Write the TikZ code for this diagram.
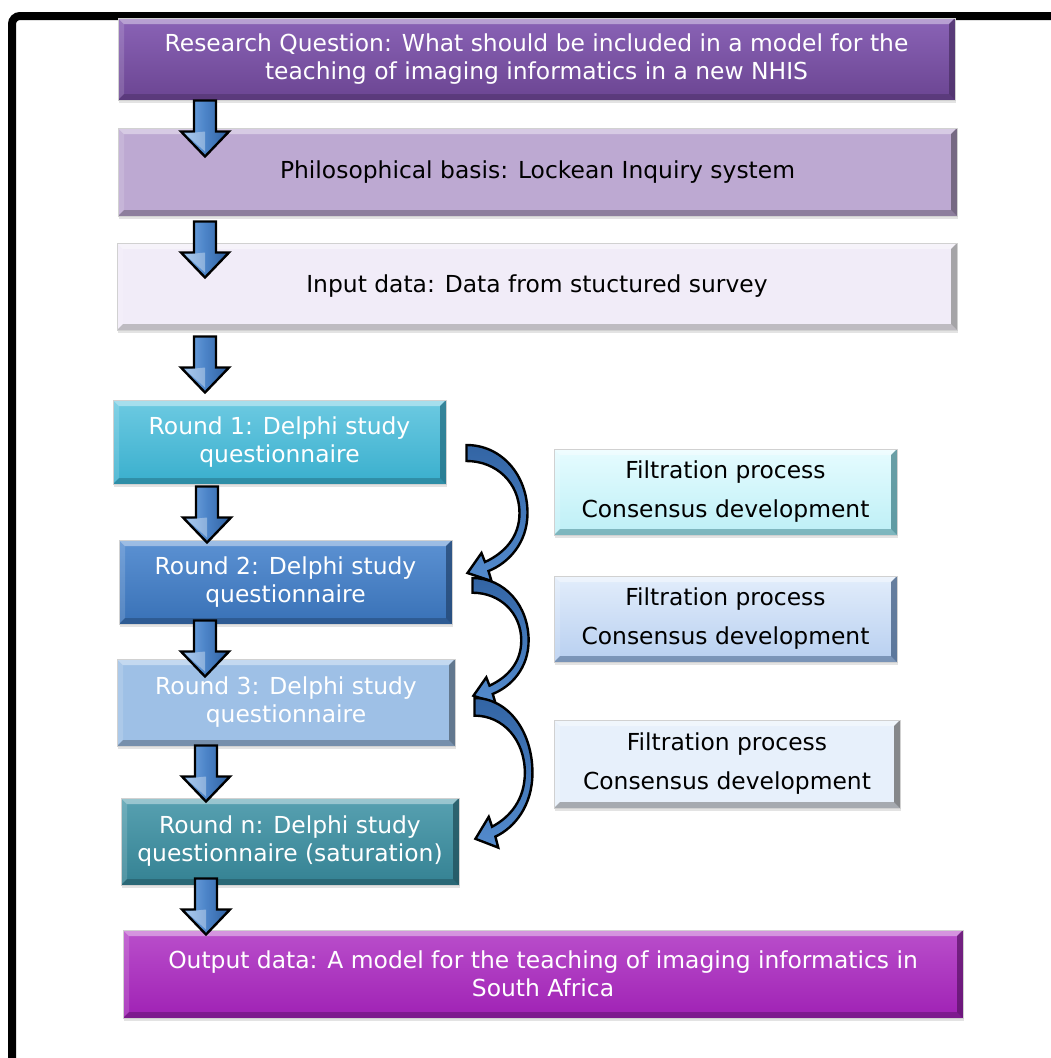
\documentclass[tikz,border=0pt]{standalone}
\usepackage{fontspec}
\setmainfont{DejaVu Sans}
\usetikzlibrary{calc,shadows}

\definecolor{rqtop}{HTML}{8A63B6}
\definecolor{rqbot}{HTML}{6B4592}
\definecolor{philface}{HTML}{BDA9D2}
\definecolor{inface}{HTML}{F1ECF8}
\definecolor{roneface}{HTML}{3CB8D8}
\definecolor{rtwoface}{HTML}{3F7ECB}
\definecolor{rthreeface}{HTML}{9EC0E6}
\definecolor{rnface}{HTML}{3A90A3}
\definecolor{outface}{HTML}{A823BE}
\definecolor{fonetop}{HTML}{E6FCFF}
\definecolor{fonebot}{HTML}{BDEFF6}
\definecolor{foneedge}{HTML}{3F7F88}
\definecolor{ftwotop}{HTML}{E2EDFB}
\definecolor{ftwobot}{HTML}{B7CFF0}
\definecolor{ftwoedge}{HTML}{3D5A80}
\definecolor{fthreeface}{HTML}{E7F0FB}
\definecolor{arrowblue}{HTML}{4C84C8}
\definecolor{arrowlight}{HTML}{7FB1E8}
\definecolor{arrowdark}{HTML}{2E5F9E}

\tikzset{
  bevel/.style={path picture={
    \path (path picture bounding box.north west) coordinate (pnw)
          (path picture bounding box.north east) coordinate (pne)
          (path picture bounding box.south west) coordinate (psw)
          (path picture bounding box.south east) coordinate (pse);
    \fill[white,opacity=.4] (pnw) -- (pne) -- ($(pne)+(-6,6)$) -- ($(pnw)+(6,6)$) -- cycle;
    \fill[white,opacity=.15] (pnw) -- ($(pnw)+(6,6)$) -- ($(psw)+(6,-6)$) -- (psw) -- cycle;
    \fill[#1,opacity=.5] (psw) -- ($(psw)+(6,-6)$) -- ($(pse)+(-6,-6)$) -- (pse) -- cycle;
    \fill[#1,opacity=.75] (pne) -- (pse) -- ($(pse)+(-6,-6)$) -- ($(pne)+(-6,6)$) -- cycle;
  }},
  stagebox/.style={inner sep=0pt, align=center, draw=black!18, line width=1,
    drop shadow={shadow xshift=1pt, shadow yshift=-3pt, opacity=.22},
    font=\fontsize{23.4}{28}\selectfont},
  lighttext/.style={text=white},
  darktext/.style={text=black},
  filtbox/.style={stagebox, font=\fontsize{23.4}{39}\selectfont, text=black},
  blockarrow/.style={draw=black, line width=2.4, line join=miter,
    left color=arrowlight, right color=arrowdark, middle color=arrowblue},
  bendarrow/.style={draw=black, line width=2.4, line join=miter,
    top color=arrowdark!85!arrowblue, bottom color=arrowblue!85!arrowlight},
}

% straight block arrow pointing down, top of the shaft at #1
\newcommand\downblock[1]{%
  \begin{scope}[shift={(#1)}]
    \path[blockarrow] (-11,0) -- (11,0) -- (11,31) -- (24,31) -- (0,56)
      -- (-24,31) -- (-11,31) -- cycle;
    \fill[white,opacity=.35] (0,31) -- (-20,33) -- (0,51) -- cycle;
  \end{scope}}

% curved block arrow bulging right, tail at #1, scaled by #2 (x) and #3 (y)
\newcommand\bendblock[3]{%
  \begin{scope}[shift={(#1)}, xscale=#2, yscale=#3]
    \path[bendarrow] (0,0) .. controls (35,0) and (61,30) .. (61,68)
      .. controls (61,98) and (42,118) .. (22,126)
      -- (25,136) -- (1,128) -- (15,108) -- (18.5,117)
      .. controls (38,108) and (53,92) .. (53,68)
      .. controls (53,38) and (30,16) .. (0,16) -- cycle;
  \end{scope}}

\begin{document}
\begin{tikzpicture}[x=1pt, y=-1pt]
  \useasboundingbox (0,0) rectangle (1051,1058);
  \fill[white] (0,0) rectangle (1051,1058);

  % outer frame
  \draw[line width=8, rounded corners=8] (12,1075) -- (12,16) -- (1075,16);

  % main column of stages
  \node[stagebox, lighttext, top color=rqtop, bottom color=rqbot, bevel=rqbot!70!black,
        minimum width=837, minimum height=82] (q) at (536.5,59)
    {Research Question: What should be included in a model for the\\teaching of imaging informatics in a new NHIS};
  \node[stagebox, darktext, fill=philface, bevel=philface!50!black,
        minimum width=839, minimum height=88] (phil) at (537.5,172)
    {Philosophical basis: Lockean Inquiry system};
  \node[stagebox, darktext, fill=inface, bevel=black!45,
        minimum width=840, minimum height=87] (inp) at (537,286.5)
    {Input data: Data from stuctured survey};
  \node[stagebox, lighttext, top color=roneface!75!white, bottom color=roneface!95!black, bevel=roneface!60!black,
        minimum width=333, minimum height=84] (r1) at (279.5,442)
    {Round 1: Delphi study\\questionnaire};
  \node[stagebox, lighttext, top color=rtwoface!85!white, bottom color=rtwoface!90!black, bevel=rtwoface!55!black,
        minimum width=333, minimum height=84] (r2) at (285.5,582)
    {Round 2: Delphi study\\questionnaire};
  \node[stagebox, lighttext, fill=rthreeface, bevel=rthreeface!50!black,
        minimum width=338, minimum height=87] (r3) at (286,702.5)
    {Round 3: Delphi study\\questionnaire};
  \node[stagebox, lighttext, top color=rnface!85!white, bottom color=rnface!90!black, bevel=rnface!55!black,
        minimum width=338, minimum height=87] (rn) at (290,841.5)
    {Round n: Delphi study\\questionnaire (saturation)};
  \node[stagebox, lighttext, top color=outface!80!white, bottom color=outface!95!black, bevel=outface!55!black,
        minimum width=840, minimum height=88] (out) at (543,974)
    {Output data: A model for the teaching of imaging informatics in\\South Africa};

  % side boxes
  \node[filtbox, top color=fonetop, bottom color=fonebot, bevel=foneedge,
        minimum width=343, minimum height=86] (f1) at (725.5,492)
    {Filtration process\\Consensus development};
  \node[filtbox, top color=ftwotop, bottom color=ftwobot, bevel=ftwoedge,
        minimum width=343, minimum height=86] (f2) at (725.5,619)
    {Filtration process\\Consensus development};
  \node[filtbox, fill=fthreeface, bevel=black!60,
        minimum width=346, minimum height=88] (f3) at (727,764)
    {Filtration process\\Consensus development};

  % straight arrows between stages
  \coordinate (axis) at (205,0);
  \downblock{q.south -| axis}
  \downblock{$(phil.south -| axis)+(0,5)$}
  \downblock{$(inp.south -| axis)+(0,6)$}
  \downblock{$(r1.south -| axis)+(2,2)$}
  \downblock{$(r2.south -| axis)+(0,-4)$}
  \downblock{$(r3.south -| axis)+(1,-1)$}
  \downblock{$(rn.south -| axis)+(1,-7)$}

  % curved arrows between rounds
  \bendblock{$(r1.east)+(20,3)$}{1}{1}
  \bendblock{$(r2.east)+(20,-4)$}{0.92}{0.92}
  \bendblock{$(r3.east)+(19,-4.5)$}{0.95}{1.1}
\end{tikzpicture}
\end{document}
